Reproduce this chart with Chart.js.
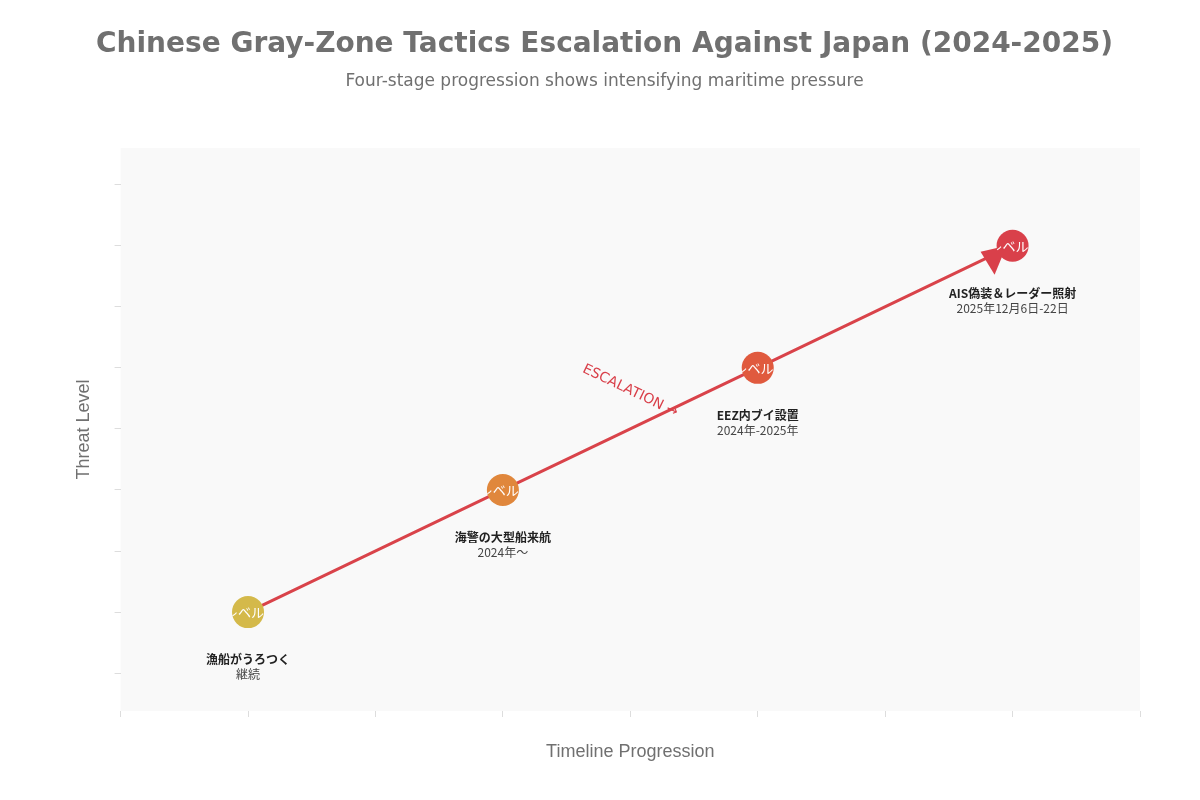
<!DOCTYPE html>
<html>
<head>
<meta charset="utf-8">
<script src="https://cdn.jsdelivr.net/npm/chart.js@4"></script>
<style>
  body { margin: 0; background: #fff; }
  #wrap { width: 1200px; height: 800px; }
</style>
</head>
<body>
<div id="wrap"><canvas id="c"></canvas></div>
<script>
// stages along the timeline
const stages = [1, 2, 3, 4];
const threat = [1, 2, 3, 4];
const stageNames = ['漁船がうろつく', '海警の大型船来航', 'EEZ内ブイ設置', 'AIS偽装＆レーダー照射'];
const stageDates = ['継続', '2024年〜', '2024年-2025年', '2025年12月6日-22日'];
const badges = ['レベル1', 'レベル2', 'レベル3', 'レベル4'];
const colors = ['#d4b94a', '#e0873c', '#e05a3e', '#d9404a'];

const fontJP = '"Noto Sans CJK JP", "Noto Sans", sans-serif';

const decor = {
    id: 'decor',
    beforeDraw(chart) {
        const { ctx, chartArea: a } = chart;
        ctx.save();
        ctx.fillStyle = '#f9f9f9';
        ctx.fillRect(a.left, a.top, a.right - a.left, a.bottom - a.top);
        ctx.restore();
    },
    afterDatasetsDraw(chart) {
        const { ctx } = chart;
        const x = chart.scales.x, y = chart.scales.y;
        const pts = stages.map((s, i) => [x.getPixelForValue(s), y.getPixelForValue(threat[i])]);
        ctx.save();
        // arrow head near last point
        const [lx, ly] = pts[3];
        ctx.fillStyle = '#d9404a';
        ctx.beginPath();
        ctx.moveTo(lx - 32, ly + 6);
        ctx.lineTo(lx - 6, ly);
        ctx.lineTo(lx - 18, ly + 29);
        ctx.closePath();
        ctx.fill();
        // circles with clipped badge text
        pts.forEach(([px, py], i) => {
            ctx.save();
            ctx.beginPath();
            ctx.arc(px, py, 16, 0, Math.PI * 2);
            ctx.fillStyle = colors[i];
            ctx.fill();
            ctx.clip();
            ctx.fillStyle = '#fff';
            ctx.font = '13px ' + fontJP;
            ctx.textAlign = 'center';
            ctx.textBaseline = 'middle';
            ctx.fillText(badges[i], px, py);
            ctx.restore();
            ctx.textAlign = 'center';
            ctx.fillStyle = '#222';
            ctx.font = 'bold 12px ' + fontJP;
            ctx.fillText(stageNames[i], px, py + 52);
            ctx.fillStyle = '#444';
            ctx.font = '12px ' + fontJP;
            ctx.fillText(stageDates[i], px, py + 67);
        });
        // escalation label
        const mx = (pts[1][0] + pts[2][0]) / 2 + 0, my = (pts[1][1] + pts[2][1]) / 2 - 38;
        const ang = Math.atan2(pts[3][1] - pts[0][1], pts[3][0] - pts[0][0]);
        ctx.translate(mx, my);
        ctx.rotate(-ang);
        ctx.fillStyle = '#d9404a';
        ctx.font = '14px "DejaVu Sans", sans-serif';
        ctx.textAlign = 'center';
        ctx.textBaseline = 'middle';
        ctx.fillText('ESCALATION →', 0, 0);
        ctx.restore();
    }
};

const tickGrid = { display: true, drawOnChartArea: false, tickLength: 6, tickColor: '#ddd' };

new Chart(document.getElementById('c'), {
    type: 'scatter',
    data: {
        datasets: [{
            data: stages.map((s, i) => ({ x: s, y: threat[i] })),
            showLine: true,
            borderColor: '#d9434a',
            borderWidth: 3,
            pointRadius: 0
        }]
    },
    options: {
        responsive: true,
        maintainAspectRatio: false,
        animation: false,
        layout: { padding: { left: 69, right: 60, top: 10, bottom: 33 } },
        plugins: {
            legend: { display: false },
            tooltip: { enabled: false },
            title: {
                display: true,
                text: 'Chinese Gray-Zone Tactics Escalation Against Japan (2024-2025)',
                color: '#707070',
                font: { family: '"DejaVu Sans", sans-serif', size: 28, weight: 'bold' },
                padding: { top: 18, bottom: 10 }
            },
            subtitle: {
                display: true,
                text: 'Four-stage progression shows intensifying maritime pressure',
                color: '#707070',
                font: { family: '"DejaVu Sans", sans-serif', size: 17 },
                padding: { bottom: 56 }
            }
        },
        scales: {
            x: {
                type: 'linear',
                min: 0.5, max: 4.5,
                grid: tickGrid,
                border: { display: false },
                ticks: { stepSize: 0.5, callback: () => '', padding: 0 },
                title: { display: true, text: 'Timeline Progression', color: '#707070',
                         font: { family: '"Liberation Sans", sans-serif', size: 18 }, padding: { top: 10 } }
            },
            y: {
                min: 0.19, max: 4.8,
                grid: tickGrid,
                border: { display: false },
                ticks: { stepSize: 0.5, callback: () => '', padding: 0 },
                afterBuildTicks(s) { s.ticks = [0.5,1,1.5,2,2.5,3,3.5,4,4.5].map(v => ({ value: v })); },
                title: { display: true, text: 'Threat Level', color: '#707070',
                         font: { family: '"Liberation Sans", sans-serif', size: 18 }, padding: { bottom: 20 } }
            }
        }
    },
    plugins: [decor]
});
</script>
</body>
</html>
